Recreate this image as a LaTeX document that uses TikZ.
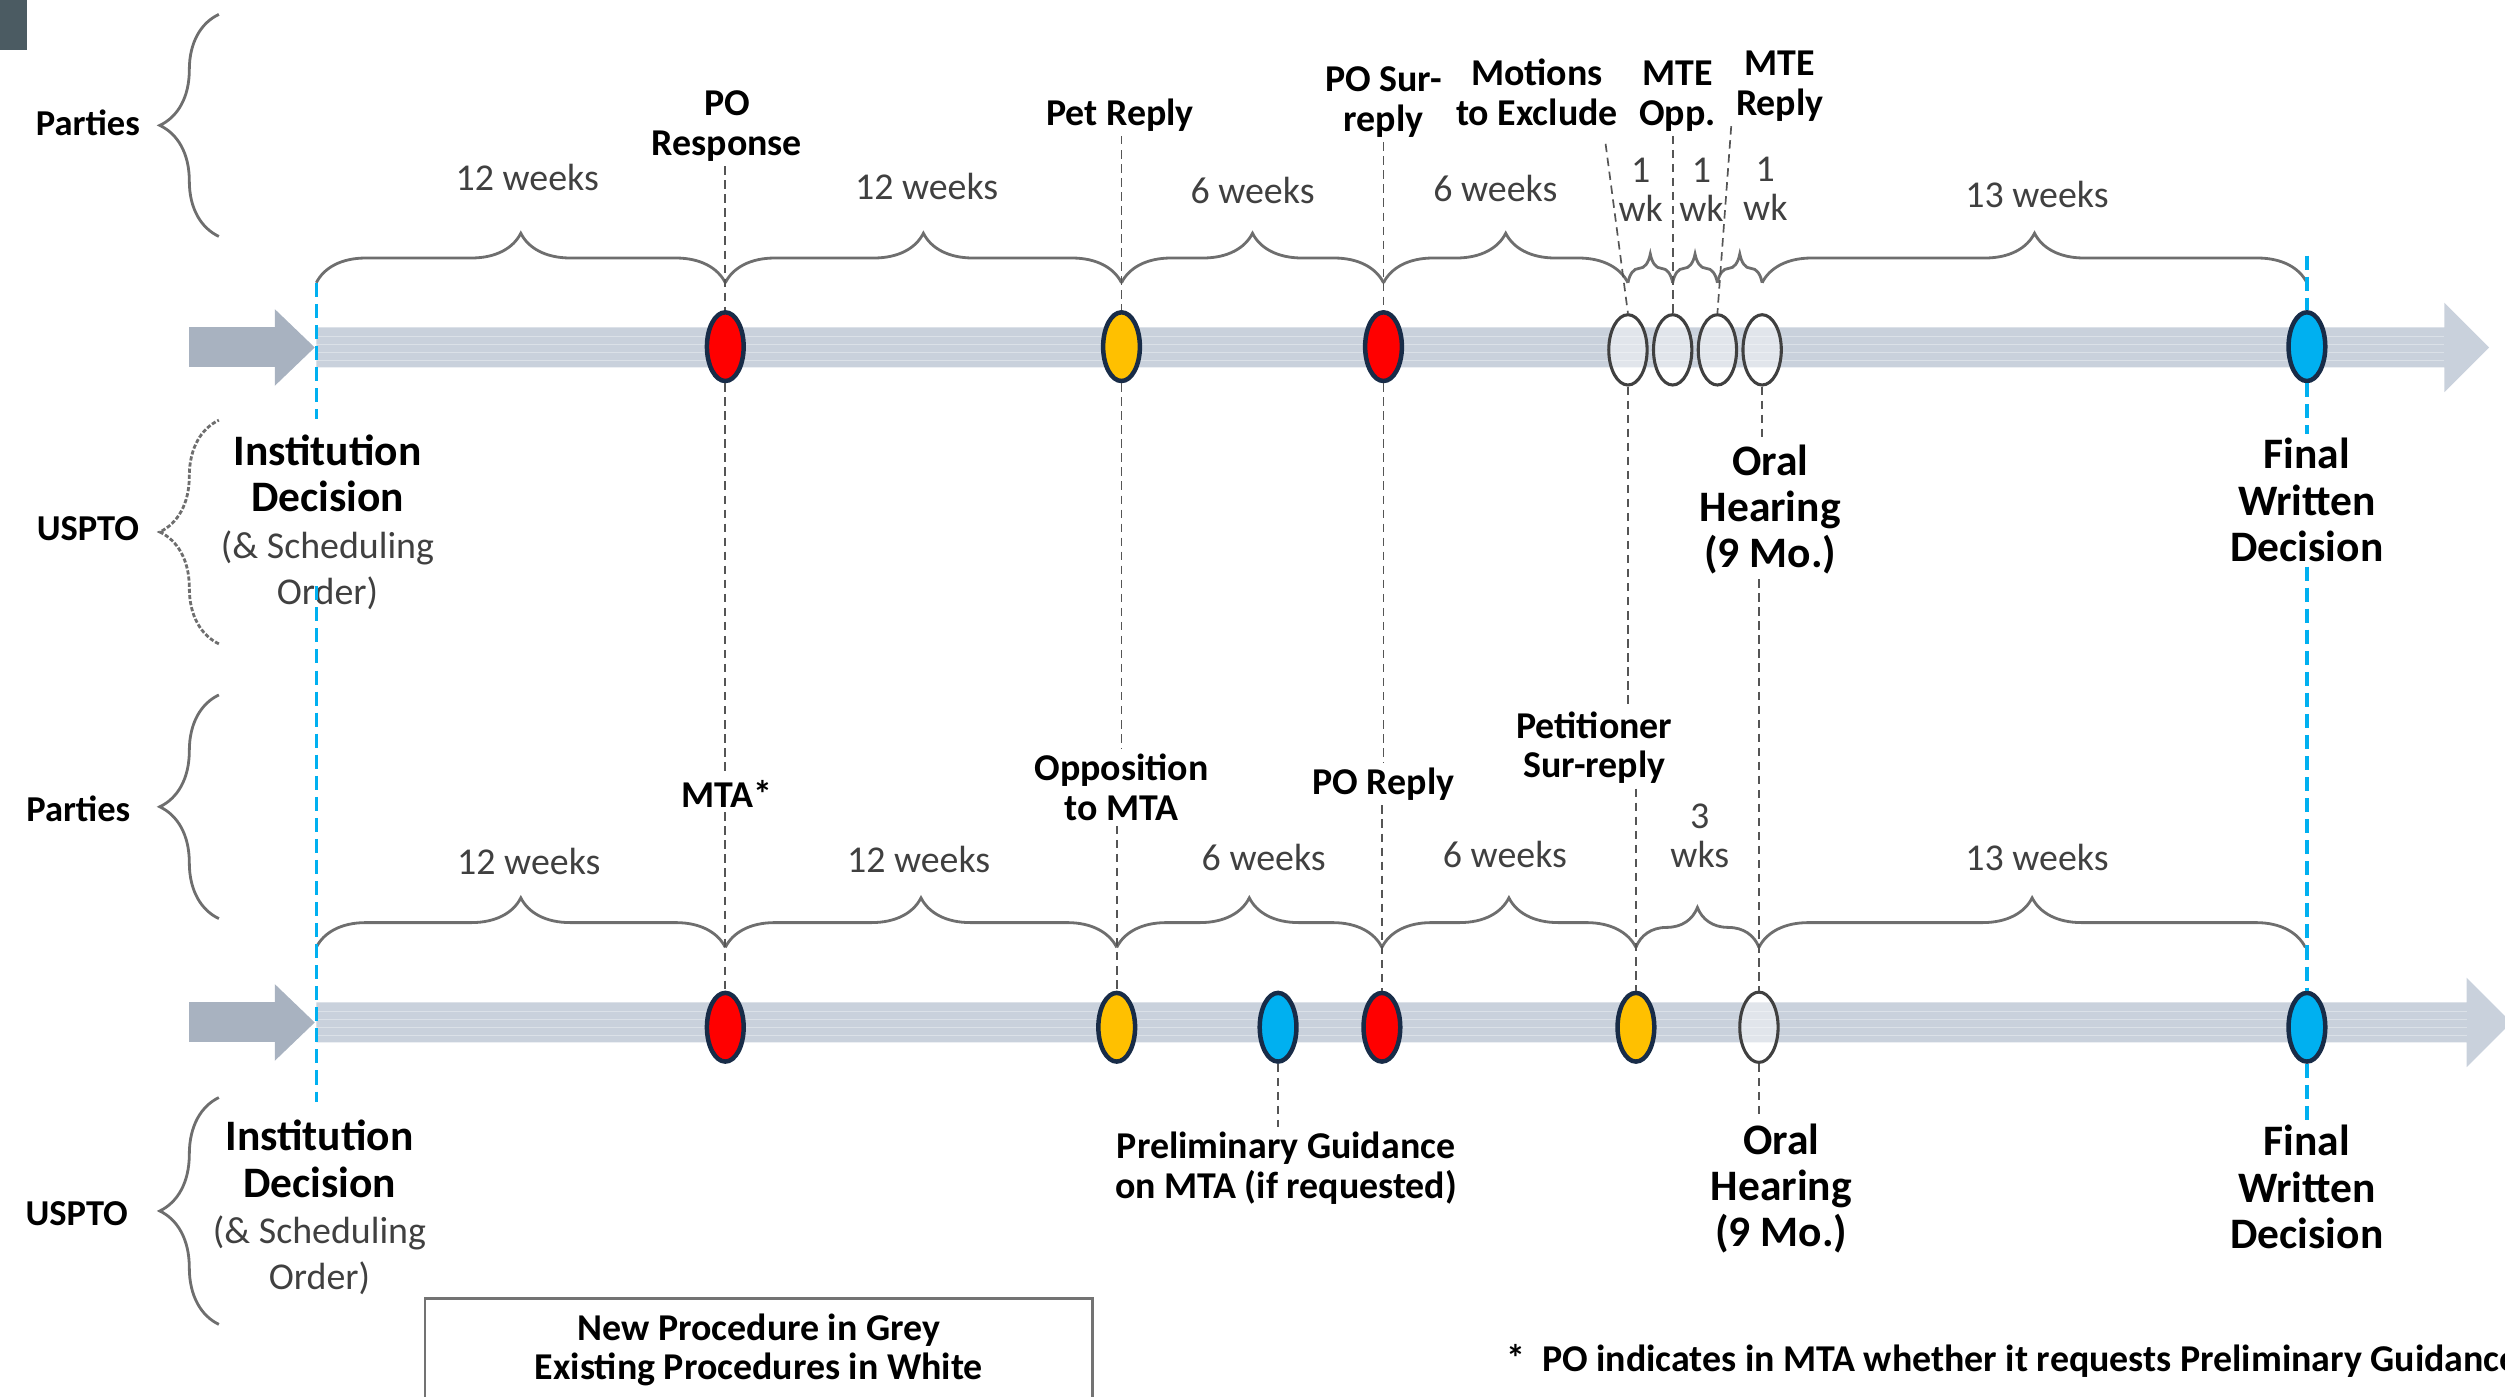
\documentclass[tikz,border=0pt]{standalone}
\usepackage{fontspec}
\setmainfont{Carlito}
\usepackage{tikz}
\usetikzlibrary{shapes.geometric,decorations.pathreplacing,calc}
\definecolor{bandgrey}{RGB}{201,209,220}
\definecolor{stubgrey}{RGB}{168,178,192}
\definecolor{evred}{RGB}{255,0,0}
\definecolor{evyellow}{RGB}{255,192,0}
\definecolor{evblue}{RGB}{0,176,240}
\definecolor{rim}{RGB}{24,44,72}
\definecolor{bracegrey}{RGB}{110,110,110}
\definecolor{leadgrey}{RGB}{85,85,85}
\definecolor{textgrey}{RGB}{64,64,64}
\definecolor{corner}{RGB}{75,91,98}

\begin{document}
\begin{tikzpicture}[x=0.02cm, y=-0.02cm,
	event/.style={ellipse, draw=rim, line width=1.6pt, inner sep=0pt, minimum width=0.46cm, minimum height=0.86cm},
	oldevent/.style={ellipse, draw=black!75, line width=1.1pt, fill=white, fill opacity=0.45, inner sep=0pt, minimum width=0.48cm, minimum height=0.88cm},
	lbl/.style={font=\fontsize{13.5}{14.2}\selectfont\bfseries, align=center, inner sep=1.5pt},
	big/.style={font=\fontsize{15.5}{16.5}\selectfont\bfseries, align=center, inner sep=1.5pt},
	dur/.style={font=\fontsize{13.5}{13.8}\selectfont, text=textgrey, align=center, inner sep=1pt},
	side/.style={font=\fontsize{13}{14}\selectfont\bfseries},
	brc/.style={draw=bracegrey, line width=1pt, decorate, decoration={brace, amplitude=0.62cm}},
	sbrc/.style={draw=bracegrey, line width=1pt, decorate, decoration={brace, amplitude=0.36cm}},
	vbrc/.style={draw=bracegrey, line width=1pt, decorate, decoration={brace, amplitude=0.74cm}},
	lead/.style={draw=leadgrey, line width=0.6pt, dash pattern=on 3pt off 2pt},
	blead/.style={draw=evblue, line width=1.2pt, dash pattern=on 5pt off 2.5pt}]
	\useasboundingbox (0,0) rectangle (1568,874);
	\clip (0,0) rectangle (1568,874);
	
	\fill[corner] (0,0) rectangle (17,31);
	
	% the two timelines
	\foreach \y/\e in {217.5/1530, 640/1544} {
		\fill[stubgrey] (118,\y-12.5) rectangle (172,\y+12.5);
		\fill[stubgrey] (172,\y-24) -- (197,\y) -- (172,\y+24) -- cycle;
		\fill[bandgrey] (198,\y-12.5) -- (\e,\y-12.5) -- (\e,\y-28) -- (\e+28,\y) -- (\e,\y+28) -- (\e,\y+12.5) -- (198,\y+12.5) -- cycle;
		\foreach \s in {-7,-2,3,8}
			\draw[white, opacity=0.35, line width=0.5pt] (198,\y+\s) -- (\e,\y+\s);
	}
	
	% side braces
	\draw[vbrc] (137,148) -- (137,9);
	\draw[vbrc, dash pattern=on 1.5pt off 0.7pt] (137,403) -- (137,263);
	\draw[vbrc] (137,575) -- (137,435);
	\draw[vbrc] (137,829) -- (137,687);
	\node[side] (par1) at (55,77) {Parties};
	\node[side] (uspto1) at (55,331) {USPTO};
	\node[side] (par2) at (49,506) {Parties};
	\node[side] (uspto2) at (48,760) {USPTO};
	
	% duration braces
	\path
	(198,177) coordinate (t0)
	(454,177) coordinate (t1)
	(702,177) coordinate (t2)
	(866,177) coordinate (t3)
	(1019,177) coordinate (t4)
	(1047,177) coordinate (t5)
	(1075,177) coordinate (t6)
	(1103,177) coordinate (t7)
	(1444,177) coordinate (t8)
	(198,593) coordinate (b0)
	(454,593) coordinate (b1)
	(699,593) coordinate (b2)
	(865,593) coordinate (b3)
	(1024,593) coordinate (b4)
	(1101,593) coordinate (b5)
	(1443,593) coordinate (b6)
	;
	\foreach \a/\b in {t0/t1,t1/t2,t2/t3,t3/t4,t7/t8,b0/b1,b1/b2,b2/b3,b3/b4,b5/b6}
		\draw[brc] (\a) -- (\b);
	\foreach \a/\b in {t4/t5,t5/t6,t6/t7}
		\draw[sbrc] (\a) -- (\b);
	\draw[brc, decoration={brace, amplitude=0.5cm}] (b4) -- (b5);
	
	\node[dur] (d1) at (330,111) {12 weeks};
	\node[dur] (d2) at (580,117) {12 weeks};
	\node[dur] (d3) at (784,119) {6 weeks};
	\node[dur] (d4) at (936,118) {6 weeks};
	\node[dur] (d5) at (1027,119) {1\\wk};
	\node[dur] (d6) at (1065,119) {1\\wk};
	\node[dur] (d7) at (1105,118) {1\\wk};
	\node[dur] (d8) at (1275,122) {13 weeks};
	\node[dur] (d9) at (331,539) {12 weeks};
	\node[dur] (d10) at (575,538) {12 weeks};
	\node[dur] (d11) at (791,537) {6 weeks};
	\node[dur] (d12) at (942,535) {6 weeks};
	\node[dur] (d13) at (1064,523) {3\\wks};
	\node[dur] (d14) at (1275,537) {13 weeks};
	
	% events
	\node[event, fill=evred] (e1) at (454,217) {};
	\node[event, fill=evyellow] (e2) at (702,217) {};
	\node[event, fill=evred] (e3) at (866,217) {};
	\node[oldevent] (c1) at (1019,219) {};
	\node[oldevent] (c2) at (1047,219) {};
	\node[oldevent] (c3) at (1075,219) {};
	\node[oldevent] (c4) at (1103,219) {};
	\node[event, fill=evblue] (f1) at (1444,217) {};
	\node[event, fill=evred] (g1) at (454,643) {};
	\node[event, fill=evyellow] (g2) at (699,643) {};
	\node[event, fill=evblue] (g3) at (800,643) {};
	\node[event, fill=evred] (g4) at (865,643) {};
	\node[event, fill=evyellow] (g5) at (1024,643) {};
	\node[oldevent] (g6) at (1101,643) {};
	\node[event, fill=evblue] (f2) at (1444,643) {};
	
	% labels
	\node[lbl] (pores) at (455,79) {PO\\Response};
	\node[lbl] (petrep) at (701,72) {Pet Reply};
	\node[lbl] (posur) at (866,64) {PO Sur-\\reply};
	\node[lbl] (motex) at (962,58) {Motions\\to Exclude};
	\node[lbl] (mteopp) at (1050,60) {MTE\\Opp.};
	\node[lbl] (mterep) at (1114,54) {MTE\\Reply};
	\node[lbl] (mta) at (455,497) {MTA*};
	\node[lbl] (oppmta) at (702,493) {Opposition\\to MTA};
	\node[lbl] (poreply) at (866,491) {PO Reply};
	\node[lbl] (petsur) at (998,468) {Petitioner\\Sur-reply};
	\node[lbl] (prelim) at (805,731) {Preliminary Guidance\\on MTA (if requested)};
	\node[big] (insttop) at (205,327) {Institution\\Decision\\{\fontsize{13.5}{15}\selectfont\mdseries\color{textgrey}(\& Scheduling}\\{\fontsize{13.5}{15}\selectfont\mdseries\color{textgrey}Order)}};
	\node[big] (instbot) at (200,756) {Institution\\Decision\\{\fontsize{13.5}{15}\selectfont\mdseries\color{textgrey}(\& Scheduling}\\{\fontsize{13.5}{15}\selectfont\mdseries\color{textgrey}Order)}};
	\node[big] (oraltop) at (1108,319) {Oral\\Hearing\\(9 Mo.)};
	\node[big] (oralbot) at (1115,744) {Oral\\Hearing\\(9 Mo.)};
	\node[big] (fintop) at (1444,313) {Final\\Written\\Decision};
	\node[big] (finbot) at (1444,743) {Final\\Written\\Decision};
	
	% leaders
	\draw[lead] (e1 |- pores.south) -- (e1.north);
	\draw[lead] (e1.south) -- (e1 |- mta.north);
	\draw[lead] (g1 |- mta.south) -- (g1.north);
	\draw[lead] (e2 |- petrep.south) -- (e2.north);
	\draw[lead] (e2.south) -- (e2 |- oppmta.north);
	\draw[lead] (g2 |- oppmta.south) -- (g2.north);
	\draw[lead] (e3 |- posur.south) -- (e3.north);
	\draw[lead] (e3.south) -- (e3 |- poreply.north);
	\draw[lead] (g4 |- poreply.south) -- (g4.north);
	\coordinate (mx) at (1005,90);
	\draw[lead] (mx) -- (c1.north);
	\draw[lead] (c1.south) -- (c1 |- petsur.north);
	\draw[lead] (g5 |- petsur.south) -- (g5.north);
	\draw[lead] (c2 |- mteopp.south) -- (c2.north);
	\draw[lead] (mterep.south west) -- (c3.north);
	\draw[lead] (c4.south) -- (c4 |- oraltop.north);
	\draw[lead] (g6 |- oraltop.south) -- (g6.north);
	\draw[lead] (g6.south) -- (g6 |- oralbot.north);
	\draw[lead] (g3.south) -- (g3 |- prelim.north);
	
	\path (198,262) coordinate (bl1) (198,367) coordinate (bl2) (198,690) coordinate (bl3) (1444,160) coordinate (fb0);
	\draw[blead] (t0) -- (bl1);
	\draw[blead] (bl2) -- (bl3);
	\draw[blead] (fb0) -- (f1.north);
	\draw[blead] (f1.south) -- (f1 |- fintop.north);
	\draw[blead] (f2 |- fintop.south) -- (f2.north);
	\draw[blead] (f2.south) -- (f2 |- finbot.north);
	
	% legend and note
	\node[lbl, draw=black!55, line width=1pt, minimum width=8.36cm, minimum height=1.28cm] (legend) at (475,845) {New Procedure in Grey\\Existing Procedures in White};
	\node[lbl, anchor=west] (note) at (940,852) {*\hspace{6pt}PO indicates in MTA whether it requests Preliminary Guidance};
\end{tikzpicture}
\end{document}
